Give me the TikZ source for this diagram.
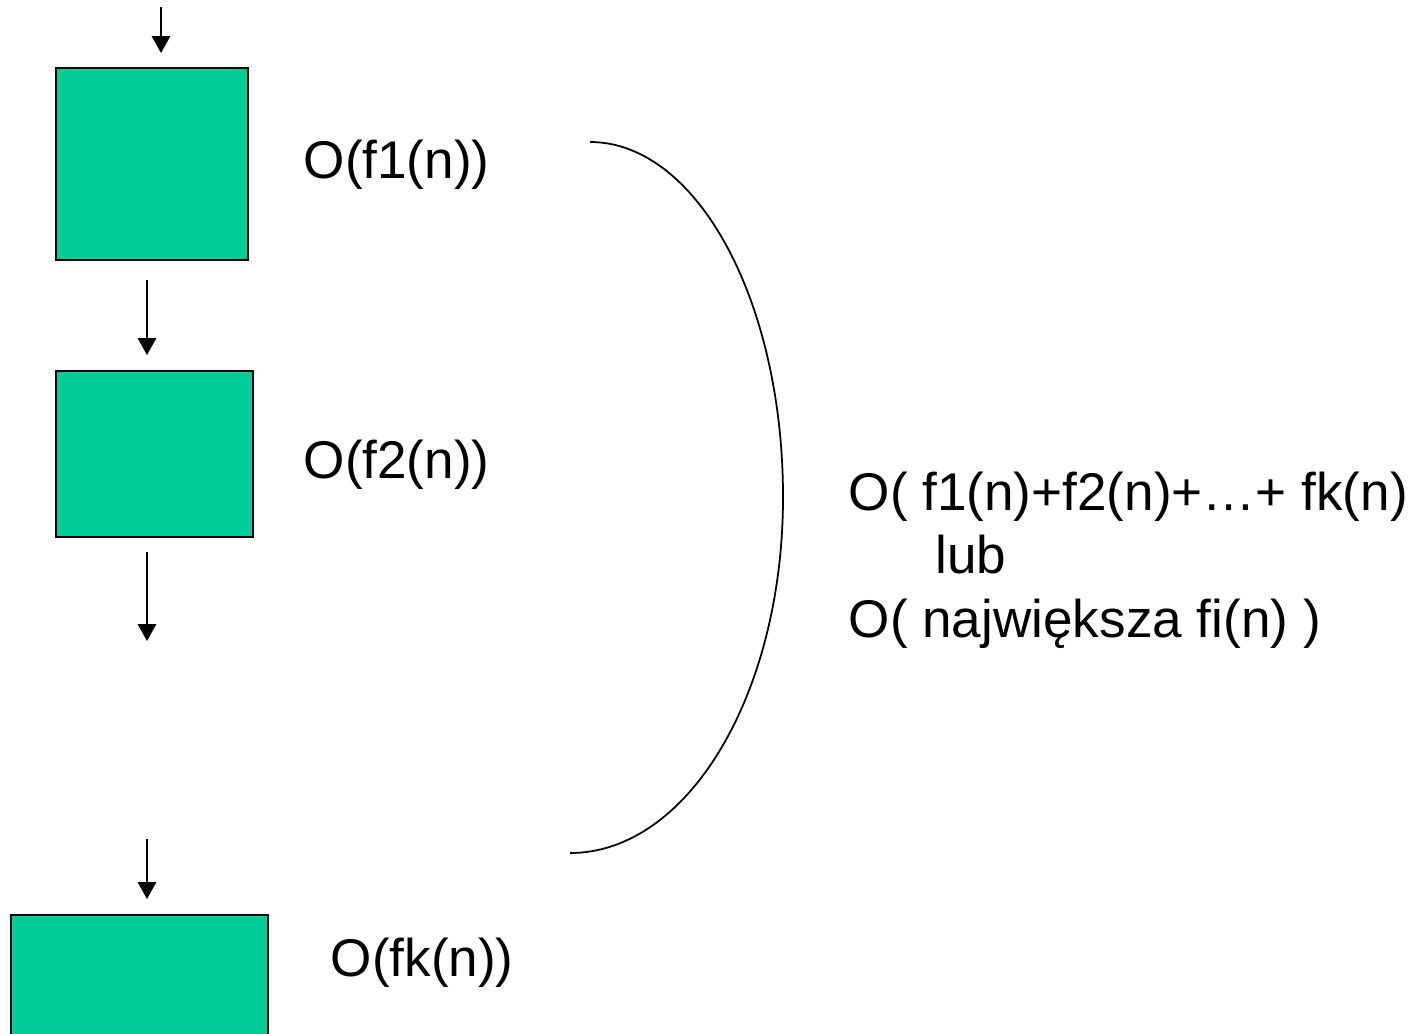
\documentclass[tikz,border=0pt]{standalone}
\usepackage{fontspec}
\setmainfont{Liberation Sans}
\usetikzlibrary{arrows.meta}
\definecolor{boxgreen}{RGB}{0,204,153}

\tikzset{
  block/.style={draw,line width=0.6pt,fill=boxgreen,inner sep=0pt},
  flow/.style={-{Triangle[width=5.2pt,length=4.8pt]},line width=0.6pt},
  cost/.style={anchor=west,inner sep=0pt,font=\fontsize{15.1}{18}\selectfont}
}

\begin{document}
\begin{tikzpicture}[x=0.01cm,y=-0.01cm]
      \clip (0,0) rectangle (1416,1033);
      % program steps
      \node[block,minimum width=1.92cm,minimum height=1.92cm] (s1) at (152,164) {};
      \node[block,minimum width=1.97cm,minimum height=1.66cm] (s2) at (154.5,454) {};
      \node[block,minimum width=2.57cm,minimum height=1.6cm] (sk) at (139.5,995) {};
      % arrow ends
      \coordinate (t0) at (161,7);
      \coordinate (h0) at (161,53);
      \coordinate (t1) at (147,280);
      \coordinate (h1) at (147,355);
      \coordinate (t2) at (147,552);
      \coordinate (h2) at (147,641);
      \coordinate (t3) at (147,839);
      \coordinate (h3) at (147,899);
      \begin{scope}[flow]
        \draw (t0) -- (h0);
        \draw (t1) -- (h1);
        \draw (t2) -- (h2);
        \draw (t3) -- (h3);
      \end{scope}
      % costs of the steps
      \node[cost] (c1) at (303,165) {O(f1(n))};
      \node[cost] (c2) at (303,465) {O(f2(n))};
      \node[cost] (ck) at (330,963) {O(fk(n))};
      % bracket round the sequence
      \coordinate (btop) at (590,142);
      \coordinate (bmid) at (783,497);
      \coordinate (bbot) at (570,853);
      \draw[line width=0.5pt] (btop) .. controls (697,142) and (783,301) .. (bmid)
        .. controls (783,694) and (688,853) .. (bbot);
      \node[cost,align=left] (total) at (848,560)
        {O( f1(n)+f2(n)+…+ fk(n)\\\hspace*{24.6pt}lub\\O( największa fi(n) )};
    \end{tikzpicture}
\end{document}
